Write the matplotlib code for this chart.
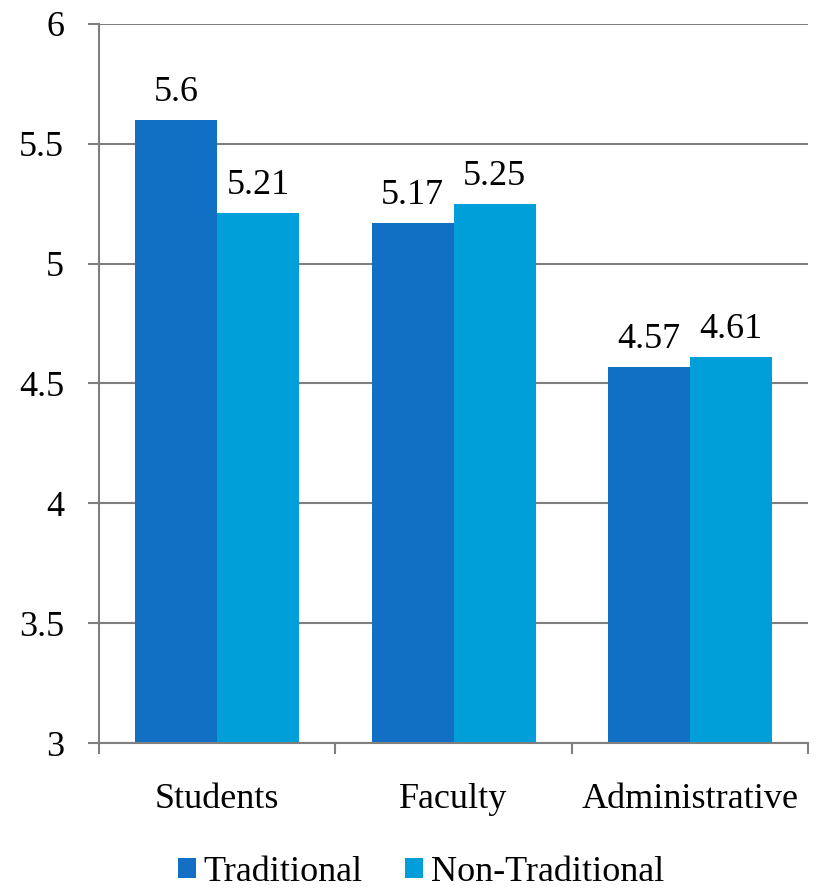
import matplotlib.pyplot as plt
import numpy as np

# Datos del grafico
categorias = ["Students", "Faculty", "Administrative"]
tradicional = [5.6, 5.17, 4.57]
no_tradicional = [5.21, 5.25, 4.61]
etiquetas_trad = ["5.6", "5.17", "4.57"]
etiquetas_no_trad = ["5.21", "5.25", "4.61"]
marcas_y = [3, 3.5, 4, 4.5, 5, 5.5, 6]
etiquetas_y = ["3", "3.5", "4", "4.5", "5", "5.5", "6"]

color_trad = "#1170C4"
color_no_trad = "#009FD9"
gris = "#7F7F7F"

plt.rcParams['font.family'] = ['Liberation Serif', 'DejaVu Serif']

fig = plt.figure(figsize=(8.17, 8.91), dpi=100)
ax = fig.add_axes([0.1212, 0.1661, 0.8678, 0.807])

x = np.arange(len(categorias))
ancho = 0.347

barras1 = ax.bar(x - ancho / 2, tradicional, ancho, color=color_trad,
                 label="Traditional", zorder=3)
barras2 = ax.bar(x + ancho / 2, no_tradicional, ancho, color=color_no_trad,
                 label="Non-Traditional", zorder=3)

# Etiquetas de valor sobre cada barra
for barra, texto in zip(barras1, etiquetas_trad):
    ax.annotate(texto, (barra.get_x() + barra.get_width() / 2, barra.get_height()),
                xytext=(0, 8), textcoords="offset points", ha="center", va="bottom",
                fontsize=26)
for barra, texto in zip(barras2, etiquetas_no_trad):
    ax.annotate(texto, (barra.get_x() + barra.get_width() / 2, barra.get_height()),
                xytext=(0, 8), textcoords="offset points", ha="center", va="bottom",
                fontsize=26)

ax.set_ylim(3, 6)
ax.set_xlim(-0.5, 2.5)
ax.set_yticks(marcas_y)
ax.set_yticklabels(etiquetas_y)

# Marcas del eje x entre categorias, etiquetas en el centro
ax.set_xticks([-0.5, 0.5, 1.5, 2.5])
ax.set_xticklabels([])
ax.set_xticks(x, minor=True)
ax.set_xticklabels(categorias, minor=True)
ax.tick_params(axis='x', which='minor', length=0, pad=29, labelsize=26)
ax.tick_params(axis='x', which='major', length=8, width=1.5, color=gris, direction='out')
ax.tick_params(axis='y', length=8, width=1.5, color=gris, direction='out', pad=17,
               labelsize=26)

ax.yaxis.grid(True, color=gris, linewidth=1.5, zorder=0)
ax.set_axisbelow(True)
for lado in ['top', 'right']:
    ax.spines[lado].set_visible(False)
for lado in ['left', 'bottom']:
    ax.spines[lado].set_color(gris)
    ax.spines[lado].set_linewidth(1.5)
ax.spines['bottom'].set_zorder(4)

fig.legend(handles=[barras1, barras2], loc='center', bbox_to_anchor=(0.515, 0.021),
           ncol=2, frameon=False, fontsize=26, handlelength=0.5, handleheight=0.5,
           handletextpad=0.2, columnspacing=1.2, borderpad=0)

fig.savefig("out.png", dpi=100)
